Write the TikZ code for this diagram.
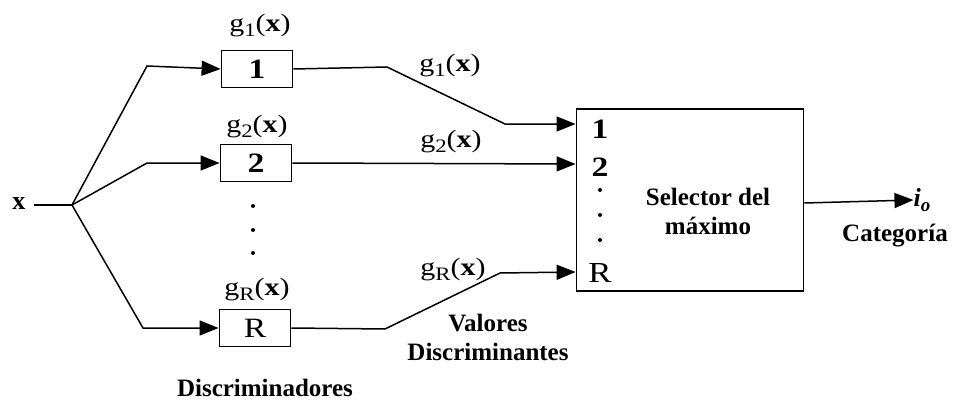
\documentclass[tikz,border=0pt]{standalone}
\usepackage{fontspec}
\setmainfont{Liberation Serif}
\newfontfamily\wideserif[FakeStretch=1.2]{Liberation Serif}
\usetikzlibrary{arrows.meta}
\newcommand{\gx}[1]{g\raisebox{-5pt}{\fontsize{19}{19}\selectfont #1}(\textbf{x})}
\begin{document}
\begin{tikzpicture}[x=1pt,y=-1pt,
  wire/.style={line width=1.5pt},
  arr/.style={wire,-{Triangle[length=19pt,width=15pt]}},
  dbox/.style={draw,line width=1.8pt,minimum width=71pt,minimum height=37pt,inner sep=0pt,font=\wideserif\fontsize{28}{28}\selectfont},
  lab/.style={font=\wideserif\fontsize{25}{26}\selectfont,inner sep=0pt},
  blab/.style={font=\bfseries\fontsize{25}{29}\selectfont,inner sep=0pt,align=center},
  dot/.style={circle,fill,inner sep=0pt,minimum size=4pt}]
\useasboundingbox (0,0) rectangle (954,404);
% input
\node[font=\bfseries\fontsize{26}{26}\selectfont,inner sep=0pt] (x) at (19,204) {x};
\coordinate (br) at (72,205);
% discriminator boxes
\node[dbox] (d1) at (257,69) {\textbf{1}};
\node[dbox] (d2) at (256,163) {\textbf{2}};
\node[dbox] (dR) at (255,328) {R};
\node[lab] (l1) at (260,26) {\gx{1}};
\node[lab] (l2) at (257,127) {\gx{2}};
\node[lab] (lR) at (257,290) {\gx{R}};
\node[dot] (p1) at (253,206) {};
\node[dot] (p2) at (253,230) {};
\node[dot] (p3) at (253,253) {};
% selector box
\node[draw,line width=1.8pt,minimum width=227pt,minimum height=182pt,inner sep=0pt] (sel) at (690,200) {};
\node[blab] (seltxt) at (708,211) {Selector del\\máximo};
\node[lab,font=\wideserif\bfseries\fontsize{28}{28}\selectfont] (s1) at (600,129) {1};
\node[lab,font=\wideserif\bfseries\fontsize{28}{28}\selectfont] (s2) at (600,167) {2};
\node[dot] (q1) at (600,190) {};
\node[dot] (q2) at (600,215) {};
\node[dot] (q3) at (600,240) {};
\node[lab,font=\wideserif\fontsize{29}{30}\selectfont] (sR) at (600,273) {R};
% connectors input
\draw[wire] (x.east) ++(8,1) coordinate (xs) -- (br);
\draw[arr] (br) -- (147,66) -- (d1.west);
\draw[arr] (br) -- (147,163) -- (d2.west);
\draw[arr] (br) -- (143,328) -- (dR.west);
% connectors to selector
\coordinate (in1) at (sel.west |- 0,124);
\coordinate (in2) at (sel.west |- 0,164);
\coordinate (inR) at (sel.west |- 0,272);
\draw[arr] (d1.east) -- (387,67) -- (505,124) -- (in1);
\draw[arr] (d2.east) -- (in2);
\draw[arr] (dR.east) -- (385,329) -- (500,273) -- (inR);
\node[lab] (o1) at (450,66) {\gx{1}};
\node[lab] (o2) at (451,142) {\gx{2}};
\node[lab] (oR) at (453,270) {\gx{R}};
\node[blab] (val) at (488,337) {Valores\\Discriminantes};
\node[blab] (disc) at (265,388) {Discriminadores};
% output
\node[inner sep=0pt,font=\bfseries\itshape\fontsize{26}{26}\selectfont] (io) at (922,200) {i\raisebox{-5pt}{\fontsize{19}{19}\selectfont o}};
\node[blab] (cat) at (895,236) {Categoría};
\draw[arr] (sel.east |- 0,203) -- (io.west);
\end{tikzpicture}
\end{document}
